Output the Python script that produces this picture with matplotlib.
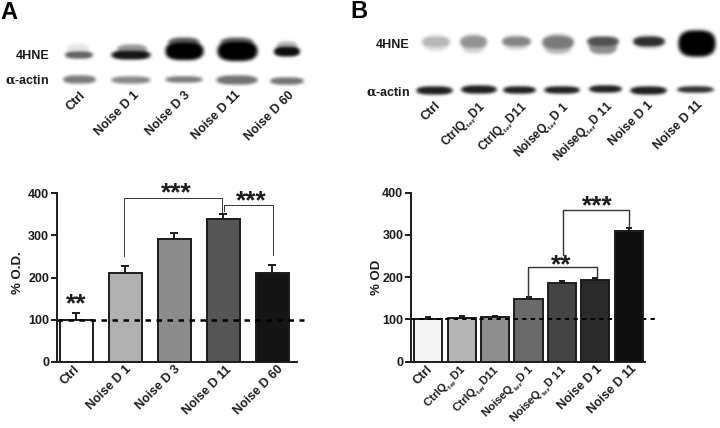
import numpy as np
import matplotlib
matplotlib.use("Agg")
import matplotlib.pyplot as plt
from matplotlib.transforms import ScaledTranslation

plt.rcParams["font.family"] = ["Liberation Sans", "DejaVu Sans"]
plt.rcParams["font.weight"] = "bold"
plt.rcParams["axes.labelweight"] = "bold"
plt.rcParams["mathtext.fontset"] = "custom"
plt.rcParams["mathtext.rm"] = "Liberation Sans:bold"
plt.rcParams["mathtext.bf"] = "Liberation Sans:bold"
plt.rcParams["mathtext.it"] = "DejaVu Serif"

W, H = 720, 428
INK = "#1c1c1c"

# panel A data
a_labels = ["Ctrl", "Noise D 1", "Noise D 3", "Noise D 11", "Noise D 60"]
a_values = [100, 210, 292, 338, 212]
a_errors = [15, 18, 15, 14, 18]
a_colors = ["#ffffff", "#b0b0b0", "#8c8c8c", "#555555", "#141414"]

# panel B data
b_labels = ["Ctrl", "CtrlQ$_{_{ter}}$D1", "CtrlQ$_{_{ter}}$D11", "NoiseQ$_{_{ter}}$D 1",
            "NoiseQ$_{_{ter}}$D 11", "Noise D 1", "Noise D 11"]
b_values = [100, 104, 105, 148, 186, 193, 310]
b_errors = [5, 4, 4, 5, 4, 6, 6]
b_colors = ["#f5f5f5", "#b5b5b5", "#8e8e8e", "#6a6a6a", "#444444", "#2a2a2a", "#0d0d0d"]

# blot bands, in image pixels: left, right, top, bottom, darkness
a_hne = [(64, 94, 51, 59, .62), (110, 152, 50, 60, .92), (164, 205, 41, 61, 1.0),
         (216, 259, 40, 62, 1.0), (273, 301, 46, 57, .95)]
a_haze = [(66, 90, 43, 56, .10), (116, 148, 44, 56, .42), (167, 201, 37, 50, .65),
          (219, 255, 37, 50, .65), (276, 298, 41, 52, .30)]
a_actin = [(62, 97, 75, 84, .52), (110, 152, 76, 84, .47), (164, 204, 76, 83, .52),
           (215, 259, 75, 85, .55), (269, 305, 77, 85, .55)]
b_hne = [(421, 451, 36, 48, .28), (459, 488, 35, 49, .42), (501, 532, 36, 47, .48),
         (541, 575, 35, 50, .52), (586, 620, 36, 47, .68), (632, 666, 36, 47, .82),
         (677, 717, 29, 58, 1.0)]
b_haze = [(423, 449, 34, 52, .12), (461, 486, 33, 54, .18), (503, 530, 34, 51, .14),
          (543, 573, 33, 55, .28), (588, 618, 36, 55, .45), (634, 664, 34, 50, .15)]
b_actin = [(415, 454, 86, 95, .88), (460, 498, 85, 94, .88), (502, 537, 86, 94, .88),
           (543, 581, 86, 94, .88), (588, 623, 85, 93, .88), (629, 668, 86, 95, .88),
           (676, 715, 86, 93, .82)]

yy, xx = np.mgrid[0:H, 0:W] + 0.5


def band(left, right, top, bottom, dark):
    cx, cy = (left + right) / 2, (top + bottom) / 2
    rx, ry = (right - left) / 2, (bottom - top) / 2
    r = np.abs((xx - cx) / rx) ** 3 + np.abs((yy - cy) / ry) ** 2.4
    return dark * np.clip((1.05 - r) * 2.0, 0, 1)


def soften(img, sigma):
    t = np.arange(-6, 7)
    k = np.exp(-t ** 2 / (2 * sigma ** 2))
    k /= k.sum()
    img = np.apply_along_axis(np.convolve, 0, img, k, mode="same")
    return np.apply_along_axis(np.convolve, 1, img, k, mode="same")


shade = np.zeros((H, W))
for item in a_hne + a_haze + a_actin + b_hne + b_haze + b_actin:
    shade = np.maximum(shade, band(*item))
shade = soften(shade, 1.4)

fig = plt.figure(figsize=(W / 100, H / 100), dpi=100, facecolor="white")

bg = fig.add_axes([0, 0, 1, 1], zorder=0)
bg.imshow(1 - shade, cmap="gray", vmin=0, vmax=1, extent=(0, W, H, 0),
          interpolation="bilinear", aspect="auto")
bg.set_xlim(0, W)
bg.set_ylim(H, 0)
bg.axis("off")


def make_axes(left, right, bottom, top):
    ax = fig.add_axes([left / W, 1 - bottom / H, (right - left) / W, (bottom - top) / H],
                      zorder=2)
    ax.patch.set_alpha(0)
    for side in ("top", "right"):
        ax.spines[side].set_visible(False)
    for side in ("left", "bottom"):
        ax.spines[side].set_linewidth(1.4)
        ax.spines[side].set_color(INK)
    ax.set_ylim(0, 400)
    ax.set_yticks([0, 100, 200, 300, 400])
    ax.tick_params(axis="y", length=4, width=1.4, color=INK, labelsize=9,
                   labelcolor=INK, pad=1.5)
    ax.tick_params(axis="x", length=0, labelsize=9, labelcolor=INK, pad=1)
    return ax


def bars(ax, values, errors, colors, width, capsize):
    xs = np.arange(len(values))
    ax.bar(xs, values, width=width, color=colors, edgecolor=INK, linewidth=1.4, zorder=3)
    ax.errorbar(xs, values, yerr=[np.zeros(len(values)), errors], fmt="none",
                ecolor=INK, elinewidth=1.4, capsize=capsize, capthick=1.4, zorder=2.5)
    return xs


def bracket(ax, x0, x1, y0, y1, top, lw):
    ax.plot([x0, x0, x1, x1], [y0, top, top, y1], color="#333333", lw=lw,
            clip_on=False, zorder=6)


def stars(ax, x, y, s):
    ax.text(x, y, s, fontsize=19, color=INK, ha="center", va="center",
            clip_on=False, zorder=7)


def shift_ticklabels(ax, shifts):
    # the reference labels do not sit quite evenly under the bars
    for lab, dx in zip(ax.get_xticklabels(), shifts):
        lab.set_transform(lab.get_transform() + ScaledTranslation(dx / 100, 0, fig.dpi_scale_trans))
        if "$" in lab.get_text():
            lab.set_fontsize(8.2)


# ── Panel A ──────────────────────────────────────────────────────────────────
ax_a = make_axes(56.7, 297, 362, 193.3)
ax_a.set_xlim(-0.4, 4.5)
xs_a = bars(ax_a, a_values, a_errors, a_colors, 0.667, 3)
ax_a.set_xticks(xs_a, a_labels, rotation=45, ha="right", rotation_mode="anchor")
shift_ticklabels(ax_a, [-3, 0, 0, 2, 5])
ax_a.plot([-0.4, 4.65], [100, 100], color="black", lw=1.8, ls=(0, (2.2, 2.2)),
          clip_on=False, zorder=5)
ax_a.set_ylabel("% O.D.", fontsize=9.5, color=INK)
ax_a.yaxis.set_label_coords(-0.135, 0.53)
bracket(ax_a, 0.97, 2.97, 251, 356, 389.6, 0.7)
bracket(ax_a, 3.01, 4.01, 358, 254, 371.5, 0.7)
stars(ax_a, 2.03, 401, "***")
stars(ax_a, 3.56, 381, "***")
stars(ax_a, 0, 137, "**")

# ── Panel B ──────────────────────────────────────────────────────────────────
ax_b = make_axes(411, 645, 361.7, 192.7)
ax_b.set_xlim(-0.52, 6.49)
xs_b = bars(ax_b, b_values, b_errors, b_colors, 0.84, 2.5)
ax_b.set_xticks(xs_b, b_labels, rotation=45, ha="right", rotation_mode="anchor")
shift_ticklabels(ax_b, [-2, -2, -2, 0, -1, 1, 2])
# the last bar sits on top of the dashed reference line
ax_b.patches[-1].set_zorder(5.5)
ax_b.plot([-0.52, 6.8], [100, 100], color="black", lw=1.4, ls=(0, (2.2, 2.2)),
          clip_on=False, zorder=5)
ax_b.set_ylabel("% OD", fontsize=9.5, color=INK)
ax_b.yaxis.set_label_coords(-0.12, 0.5)
bracket(ax_b, 2.99, 5.04, 154, 201, 223, 1.0)
bracket(ax_b, 4.02, 6.0, 252, 320, 358, 1.0)
stars(ax_b, 3.99, 228, "**")
stars(ax_b, 5.06, 367, "***")

# ── Blot and panel labels, placed in pixels on the background axes ───────────
txt = dict(color=INK, fontsize=9)
bg.text(49, 55.5, "4HNE", ha="right", va="center", **txt)
bg.text(49, 80.5, r"$\alpha$-actin", ha="right", va="center", **txt)
bg.text(410, 45, "4HNE", ha="right", va="center", **txt)
bg.text(410, 92.5, r"$\alpha$-actin", ha="right", va="center", **txt)

a_blot_x = [79, 133, 184, 235, 288]
for x, label in zip(a_blot_x, a_labels):
    bg.text(x, 89, label, rotation=45, ha="right", va="top", rotation_mode="anchor", **txt)
b_blot_x = [434, 478, 520, 562, 606, 647, 697]
for x, label in zip(b_blot_x, b_labels):
    size = 8.6 if "$" in label else 9
    bg.text(x, 99, label, rotation=45, ha="right", va="top", rotation_mode="anchor",
            color=INK, fontsize=size)

bg.text(0, 19, "A", fontsize=17, color="black", ha="left", va="baseline")
bg.text(350, 18, "B", fontsize=17, color="black", ha="left", va="baseline")

fig.savefig("out.png", dpi=100, facecolor="white")
plt.close(fig)
